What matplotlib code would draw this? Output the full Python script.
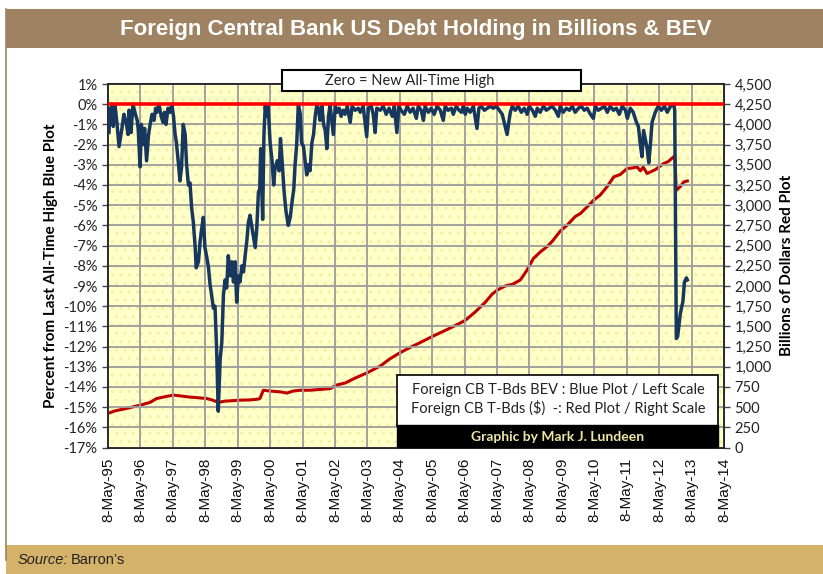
import matplotlib
matplotlib.use("Agg")
import matplotlib.pyplot as plt
from matplotlib.patches import Rectangle

# ---------------- data ----------------
blue_years = [1995.38,1995.41,1995.44,1995.47,1995.51,1995.57,1995.63,1995.69,1995.75,1995.78,1995.84,1995.91,1995.97,
1996.00,1996.03,1996.06,1996.12,1996.18,1996.25,1996.28,1996.34,1996.38,1996.43,1996.48,1996.54,1996.60,1996.65,1996.71,
1996.77,1996.82,1996.86,1996.92,1996.99,1997.05,1997.09,1997.14,1997.20,1997.26,1997.32,1997.37,1997.42,1997.46,1997.52,
1997.57,1997.62,1997.67,1997.73,1997.77,1997.83,1997.88,1997.93,1997.98,1998.04,1998.07,1998.14,1998.19,1998.24,1998.29,
1998.34,1998.40,1998.45,1998.50,1998.55,1998.60,1998.65,1998.70,1998.75,1998.81,1998.86,1998.91,1998.96,1999.01,1999.06,
1999.12,1999.17,1999.22,1999.27,1999.32,1999.37,1999.42,1999.48,1999.53,1999.58,1999.63,1999.68,1999.73,1999.78,1999.83,
1999.89,1999.94,1999.99,2000.03,2000.06,2000.12,2000.16,2000.20,2000.24,2000.29,2000.35,2000.41,2000.46,2000.50,2000.57,
2000.63,2000.67,2000.72,2000.78,2000.84,2000.91,2000.97,2001.03,2001.08,2001.12,2001.17,2001.22,2001.28,2001.32,2001.38,
2001.43,2001.48,2001.53,2001.58,2001.64,2001.69,2001.74,2001.79,2001.84,2001.89,2001.95,2002.00,2002.05,2002.10,2002.15,
2002.20,2002.25,2002.30,2002.36,2002.42,2002.48,2002.54,2002.60,2002.66,2002.73,2002.82,2002.88,2002.97,2003.07,2003.13,
2003.22,2003.33,2003.38,2003.47,2003.53,2003.59,2003.64,2003.75,2003.84,2003.93,2004.02,2004.12,2004.18,2004.26,2004.32,
2004.39,2004.49,2004.58,2004.67,2004.76,2004.86,2004.92,2005.01,2005.08,2005.13,2005.23,2005.32,2005.41,2005.50,2005.60,
2005.69,2005.75,2005.84,2005.94,2006.00,2006.09,2006.18,2006.25,2006.31,2006.37,2006.43,2006.52,2006.62,2006.73,2006.79,
2006.86,2006.96,2007.05,2007.14,2007.23,2007.33,2007.42,2007.51,2007.57,2007.66,2007.71,2007.76,2007.82,2007.91,2008.00,
2008.10,2008.19,2008.28,2008.34,2008.44,2008.53,2008.59,2008.68,2008.78,2008.87,2008.96,2009.05,2009.15,2009.24,2009.30,
2009.39,2009.49,2009.58,2009.67,2009.76,2009.86,2009.95,2010.04,2010.13,2010.23,2010.32,2010.38,2010.47,2010.57,2010.66,
2010.75,2010.84,2010.94,2011.03,2011.12,2011.21,2011.31,2011.37,2011.46,2011.55,2011.65,2011.71,2011.77,2011.82,2011.87,
2011.92,2011.98,2012.03,2012.08,2012.13,2012.23,2012.32,2012.42,2012.51,2012.60,2012.70,2012.80,2012.83,2012.88,2012.92,
2013.00,2013.05,2013.08,2013.13,2013.19,2013.22]
blue_pct = [-1.4,-0.2,-0.9,0.0,-1.1,-0.1,-1.0,-2.1,-1.5,-1.2,-0.5,-0.9,-1.5,
-0.3,-0.8,-1.4,0.0,-0.4,-0.8,-1.2,-3.1,-1.0,-2.0,-1.2,-2.8,-1.5,-1.0,-0.5,
-0.8,-0.2,-0.4,0.0,-0.6,-0.9,-0.4,-1.0,-0.2,-0.4,0.0,-0.6,-1.5,-1.9,-2.9,
-3.8,-3.1,-1.0,-1.5,-2.9,-4.0,-3.9,-5.15,-5.8,-7.1,-8.1,-7.8,-6.8,-6.15,-5.6,
-7.1,-7.6,-8.1,-8.96,-9.5,-10.1,-10.0,-12.1,-15.2,-12.6,-11.8,-9.45,-8.7,-9.1,-7.5,
-8.5,-7.8,-8.8,-7.8,-9.8,-8.5,-8.8,-8.0,-8.3,-7.5,-6.8,-5.85,-5.5,-6.0,-6.5,
-7.1,-6.1,-4.35,-4.2,-2.2,-5.7,-1.5,-0.1,-0.6,-0.1,-1.9,-2.8,-4.0,-3.2,-2.8,
-3.3,-1.7,-2.8,-4.3,-5.3,-6.0,-5.6,-4.8,-4.2,-3.0,-2.0,0.0,-0.5,-1.9,-2.1,
-2.8,-3.5,-3.0,-3.3,-1.9,-1.5,-0.6,-0.05,-0.2,-0.8,-0.1,-1.0,-1.3,-2.2,-0.6,
-0.05,-0.8,-1.5,-0.1,-0.4,-0.2,-0.6,-0.3,-0.5,-0.1,-0.9,-0.1,-0.3,-0.2,-0.4,
-0.1,-1.6,-0.2,-0.1,-0.5,-1.4,-0.2,-0.3,-0.1,-0.5,-0.2,-0.6,-0.1,-1.4,-0.1,
-0.3,-0.5,-0.1,-0.4,-0.2,-0.7,-0.1,-0.3,-0.8,-0.1,-0.4,-0.2,-0.5,-0.1,-0.3,
-0.8,-0.1,-0.3,-0.2,-0.5,-0.1,-0.3,-0.4,-0.1,-0.5,-0.2,-0.4,-0.1,-1.2,-0.2,
-0.1,-0.3,-0.2,-0.1,-0.2,-0.1,-0.3,-0.5,-0.9,-1.5,-0.9,-0.4,-0.1,-0.3,-0.1,
-0.4,-0.2,-0.5,-0.1,-0.3,-0.6,-0.2,-0.4,-0.1,-0.3,-0.2,-0.1,-0.3,-0.6,-0.1,
-0.4,-0.2,-0.3,-0.1,-0.4,-0.2,-0.1,-0.3,-0.2,-0.5,-0.7,-0.1,-0.3,-0.2,-0.1,
-0.4,-0.1,-0.3,-0.2,-0.5,-0.1,-0.3,-0.7,-0.2,-0.4,-0.9,-1.1,-2.0,-2.6,-1.3,
-1.7,-2.2,-2.9,-2.0,-0.9,-0.4,-0.1,-0.3,-0.1,-0.4,-0.1,0.0,-0.3,-11.6,-11.5,
-10.4,-10.0,-9.8,-8.8,-8.6,-8.7]

red_years = [1995.36,1995.57,1995.87,1996.34,1996.65,1996.85,1997.11,1997.37,1997.57,1997.88,1998.19,1998.40,
1998.56,1998.75,1998.96,1999.42,1999.73,1999.98,2000.04,2000.14,2000.35,2000.66,2000.87,2001.06,2001.28,2001.58,
2001.89,2002.20,2002.41,2002.67,2002.97,2003.34,2003.75,2004.05,2004.36,2004.67,2004.98,2005.35,2005.75,2006.06,
2006.37,2006.68,2006.99,2007.20,2007.36,2007.60,2007.82,2008.07,2008.28,2008.47,2008.68,2008.93,2009.08,2009.30,
2009.51,2009.76,2009.92,2010.13,2010.33,2010.53,2010.74,2010.95,2011.15,2011.36,2011.52,2011.67,2011.77,2011.86,
2011.98,2012.23,2012.49,2012.63,2012.80,2012.83,2012.88,2013.00,2013.11,2013.22]
red_billions = [425,455,480,525,560,607,630,650,640,625,615,607,
590,560,575,587,590,600,610,710,700,690,675,700,710,710,
720,730,775,800,860,925,1010,1100,1175,1240,1300,1375,1450,1510,
1575,1680,1800,1900,1950,2000,2020,2075,2200,2340,2420,2500,2567,2680,
2752,2860,2897,2980,3062,3125,3227,3350,3380,3454,3460,3474,3425,3470,
3392,3440,3516,3540,3600,3610,3185,3230,3288,3300]

tick_years = list(range(1995, 2015))
tick_labels = ["8-May-%02d" % (y % 100) for y in tick_years]
left_ticks = list(range(1, -18, -1))
right_ticks = list(range(0, 4501, 250))

title = "Foreign Central Bank US Debt Holding in Billions & BEV"

# ---------------- figure ----------------
W, H = 823, 574
fig = plt.figure(figsize=(W / 100, H / 100), dpi=100)
fig.patch.set_facecolor("white")

def fx(px): return px / W
def fy(py): return 1 - py / H

# banners
fig.patches.append(Rectangle((fx(6), fy(48)), fx(823) - fx(6), fy(9) - fy(48),
                             transform=fig.transFigure, facecolor="#9E8262", edgecolor="none", zorder=0))
fig.patches.append(Rectangle((fx(6), fy(574)), fx(823) - fx(6), fy(545) - fy(574),
                             transform=fig.transFigure, facecolor="#D4B26A", edgecolor="none", zorder=0))
fig.add_artist(plt.Line2D([fx(5.5), fx(5.5)], [fy(9), fy(560)], transform=fig.transFigure,
                          color="#9E8262", lw=1.2))
fig.text(fx(416), fy(29), title, ha="center", va="center", color="white", fontsize=16,
         fontweight="bold", family=["Liberation Sans", "DejaVu Sans"])
fig.text(fx(18), fy(560), "Source:", ha="left", va="center", fontsize=10.5, style="italic",
         family=["Liberation Sans", "DejaVu Sans"], color="#222222")
fig.text(fx(71), fy(560), "Barron\u2019s", ha="left", va="center", fontsize=10.5,
         family=["Liberation Sans", "DejaVu Sans"], color="#222222")

x0, x1 = 1995.35, 2014.35
axr = fig.add_axes([fx(108), fy(447.6), fx(724) - fx(108), fy(84) - fy(447.6)])
axl = axr.twinx()
axl.yaxis.set_label_position("left"); axl.yaxis.tick_left()
axr.yaxis.set_label_position("right"); axr.yaxis.tick_right()
axl.set_zorder(axr.get_zorder() + 1)
axl.patch.set_visible(False)

axr.set_facecolor("#FFFFC8")
axr.add_patch(Rectangle((0, 0), 1, 1, transform=axr.transAxes, facecolor="none",
                        edgecolor="#F4EEA6", hatch="..", lw=0, zorder=0))

axr.set_xlim(x0, x1)
axr.set_ylim(0, 4500)
axl.set_ylim(-17, 1)

# grid
for y in left_ticks:
    axl.axhline(y, color="#9C9C9C", lw=1.3, zorder=1)
for y in tick_years:
    axl.axvline(y + 0.35, color="#9C9C9C", lw=1.3, zorder=1)

axr.plot(red_years, red_billions, color="#C00000", lw=2.2, zorder=3)
axl.plot(blue_years, blue_pct, color="#17375E", lw=2.5, zorder=3, solid_joinstyle="round")
axl.axhline(0, color="#FF0000", lw=2.6, zorder=4)

axr.set_xticks([y + 0.35 for y in tick_years])
axr.set_xticklabels(tick_labels, rotation=90, fontsize=11, family="Liberation Sans", color="#111111")
axr.tick_params(axis="x", length=0, pad=7)

axl.set_yticks(left_ticks)
axl.set_yticklabels(["%d%%" % v for v in left_ticks])
axr.set_yticks(right_ticks)
axr.set_yticklabels(["{:,}".format(v) for v in right_ticks])
for a in (axl, axr):
    a.tick_params(axis="y", labelsize=10.5, direction="out", length=4, width=1, color="#444444",
                  labelcolor="#222222")
    for lab in a.get_yticklabels():
        lab.set_family(["Lato", "DejaVu Sans"])
    for s in a.spines.values():
        s.set_color("#222222"); s.set_linewidth(1.2)

axl.set_ylabel("Percent from Last All-Time High Blue Plot", fontsize=11, fontweight="bold",
               family=["Lato", "DejaVu Sans"], labelpad=4)
axr.set_ylabel("Billions of Dollars Red Plot", fontsize=11, fontweight="bold",
               family=["Lato", "DejaVu Sans"], labelpad=6)

# annotation boxes (figure coordinates)
fig.patches.append(Rectangle((fx(282), fy(91)), fx(581) - fx(282), fy(70) - fy(91),
                             transform=fig.transFigure, facecolor="white", edgecolor="black",
                             lw=1.5, zorder=10))
fig.text(fx(410), fy(81), "Zero = New All-Time High", ha="center", va="center", fontsize=10.5,
         family=["Lato", "DejaVu Sans"], color="#222222", zorder=11)

fig.patches.append(Rectangle((fx(397), fy(426)), fx(718) - fx(397), fy(375) - fy(426),
                             transform=fig.transFigure, facecolor="white", edgecolor="black",
                             lw=1.2, zorder=10))
fig.patches.append(Rectangle((fx(397), fy(447)), fx(718) - fx(397), fy(425) - fy(447),
                             transform=fig.transFigure, facecolor="black", edgecolor="black",
                             lw=1, zorder=10))
fig.text(fx(558), fy(390), "Foreign CB T-Bds BEV : Blue Plot / Left Scale", ha="center", va="center",
         fontsize=10.5, family=["Lato", "DejaVu Sans"], color="#222222", zorder=11)
fig.text(fx(558), fy(408), "Foreign CB T-Bds ($)  -: Red Plot / Right Scale", ha="center", va="center",
         fontsize=10.5, family=["Lato", "DejaVu Sans"], color="#222222", zorder=11)
fig.text(fx(558), fy(437), "Graphic by Mark J. Lundeen", ha="center", va="center",
         fontsize=10, fontweight="bold", family=["Lato", "DejaVu Sans"], color="#EEE6A6", zorder=11)

fig.savefig("out.png", dpi=100)
